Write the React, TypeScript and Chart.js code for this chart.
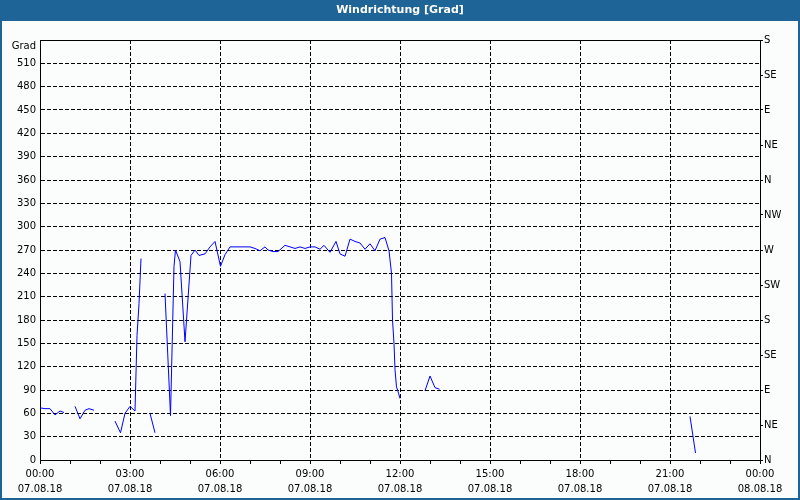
import React, { useEffect, useRef } from "react";
import { Chart, registerables } from "chart.js";

Chart.register(...registerables);

// Tick labels
const timeLabels = ["00:00", "03:00", "06:00", "09:00", "12:00", "15:00", "18:00", "21:00", "00:00"];
const dateLabels = ["07.08.18", "07.08.18", "07.08.18", "07.08.18", "07.08.18", "07.08.18", "07.08.18", "07.08.18", "08.08.18"];
const dirLabels = ["N", "NE", "E", "SE", "S", "SW", "W", "NW", "N", "NE", "E", "SE", "S"];

// Time of each sample (minutes after 07.08.18 00:00); null values are gaps
const minutes = [
  0, 10, 20, 30, 40, 48, 55,
  70, 80, 90, 98, 108, 115,
  150, 161, 170, 180, 190, 194, 198, 202, 206,
  220, 230, 240,
  250, 261, 268, 271, 280, 290, 302, 310, 318, 330, 340, 350, 361, 370, 380, 400, 420, 430, 440, 450,
  456, 466, 476, 490, 500, 510, 520, 530, 540, 550, 560, 568, 580, 592, 600, 610, 620, 630, 640, 650,
  660, 670, 680, 690, 698, 703, 705, 708, 710, 713, 717, 720, 730,
  770, 780, 790, 799, 805,
  1300, 1311,
];
// Wind direction (Grad)
const grad = [
  67, 66, 66, 58, 63, 61, null,
  69, 53, 64, 66, 64, null,
  50, 35, 60, 69, 63, 160, 201, 259, null,
  60, 35, null,
  214, 57, 249, 270, 255, 152, 263, 270, 263, 265, 274, 281, 249, 264, 274, 274, 274, 272, 269, 274,
  270, 268, 268, 276, 274, 272, 274, 272, 274, 274, 271, 276, 267, 281, 265, 262, 284, 281, 279, 271,
  278, 269, 284, 286, 269, 240, 180, 150, 116, 94, 86, 79, null,
  89, 108, 93, 91, null,
  56, 9,
];

const FONT = "'DejaVu Sans', sans-serif";
const BLUE = "#1e6497";

const framePlugin = {
  id: "frame",
  beforeDraw(chart: any) {
    const { ctx, width, height } = chart;
    ctx.save();
    ctx.fillStyle = "#fbfdfc";
    ctx.fillRect(0, 0, width, height);
    ctx.fillStyle = BLUE;
    ctx.fillRect(0, 0, width, 21);
    ctx.restore();
  },
  afterDraw(chart: any) {
    const { ctx, width, height, chartArea } = chart;
    ctx.save();
    ctx.strokeStyle = "#000";
    ctx.lineWidth = 1;
    ctx.beginPath();
    ctx.moveTo(chartArea.left, Math.round(chartArea.top) + 0.5);
    ctx.lineTo(chartArea.right + 1, Math.round(chartArea.top) + 0.5);
    ctx.stroke();
    ctx.strokeStyle = BLUE;
    ctx.lineWidth = 2;
    ctx.beginPath();
    ctx.moveTo(1, 0);
    ctx.lineTo(1, height - 1);
    ctx.lineTo(width - 1, height - 1);
    ctx.lineTo(width - 1, 0);
    ctx.stroke();
    ctx.restore();
  },
};

export default function App() {
  const ref = useRef<HTMLCanvasElement | null>(null);

  useEffect(() => {
    if (!ref.current) return;
    const data = minutes.map((m, i) => ({ x: m, y: grad[i] }));
    const chart = new Chart(ref.current, {
      type: "line",
      data: {
        datasets: [
          {
            data: data as any,
            borderColor: "#0000ff",
            borderWidth: 1,
            pointRadius: 0,
            tension: 0,
            spanGaps: false,
            fill: false,
          },
        ],
      },
      options: {
        responsive: false,
        animation: false,
        layout: { padding: { top: 0, left: 0, right: 0, bottom: 0 } },
        plugins: {
          legend: { display: false },
          tooltip: { enabled: false },
          title: {
            display: true,
            text: "Windrichtung [Grad]",
            color: "#ffffff",
            font: { family: FONT, size: 11, weight: "bold", lineHeight: 1.2 },
            padding: { top: 4, bottom: 22.8 },
          },
        },
        scales: {
          x: {
            type: "linear",
            min: 0,
            max: 1440,
            afterFit: (s: any) => { s.height = 40; },
            ticks: {
              stepSize: 60,
              autoSkip: false,
              maxRotation: 0,
              minRotation: 0,
              padding: 3,
              color: "#000",
              font: { family: FONT, size: 10, lineHeight: 1.5 },
              callback: (v: any) => {
                const n = Number(v);
                return n % 180 === 0 ? [timeLabels[n / 180], dateLabels[n / 180]] : " ";
              },
            },
            grid: {
              color: (c: any) => {
                const v = c.tick ? c.tick.value : 0;
                return v % 180 === 0 && v > 0 && v < 1440 ? "#000" : "rgba(0,0,0,0)";
              },
              lineWidth: 1,
              drawTicks: true,
              tickLength: 4,
              tickWidth: 1,
              tickColor: () => "#000",
              tickBorderDash: [],
            },
            border: { display: true, color: "#000", width: 1, dash: [4, 2] },
          },
          y: {
            type: "linear",
            position: "left",
            min: 0,
            max: 540,
            afterFit: (s: any) => { s.width = 40; },
            ticks: {
              stepSize: 30,
              autoSkip: false,
              padding: 4,
              color: "#000",
              font: { family: FONT, size: 10, lineHeight: 1.2 },
              callback: (v: any) => (Number(v) === 540 ? ["", "Grad"] : String(v)),
            },
            grid: {
              color: (c: any) => {
                const v = c.tick ? c.tick.value : 0;
                return v > 0 && v < 540 ? "#000" : "rgba(0,0,0,0)";
              },
              lineWidth: 1,
              drawTicks: false,
            },
            border: { display: true, color: "#000", width: 1, dash: [4, 2] },
          },
          y2: {
            type: "linear",
            position: "right",
            min: 0,
            max: 540,
            afterFit: (s: any) => { s.width = 40; },
            ticks: {
              stepSize: 45,
              autoSkip: false,
              padding: 1,
              color: "#000",
              font: { family: FONT, size: 10, lineHeight: 1.2 },
              callback: (v: any) => dirLabels[Math.round(Number(v) / 45)] ?? "",
            },
            grid: {
              drawOnChartArea: false,
              drawTicks: true,
              tickLength: 3,
              tickColor: "#000",
              color: "#000",
            },
            border: { display: true, color: "#000", width: 1 },
          },
        },
      },
      plugins: [framePlugin],
    });
    return () => chart.destroy();
  }, []);

  return (
    <div style={{ position: "absolute", left: 0, top: 0, width: 800, height: 500 }}>
      <canvas ref={ref} width={800} height={500} style={{ display: "block", width: 800, height: 500 }} />
    </div>
  );
}
